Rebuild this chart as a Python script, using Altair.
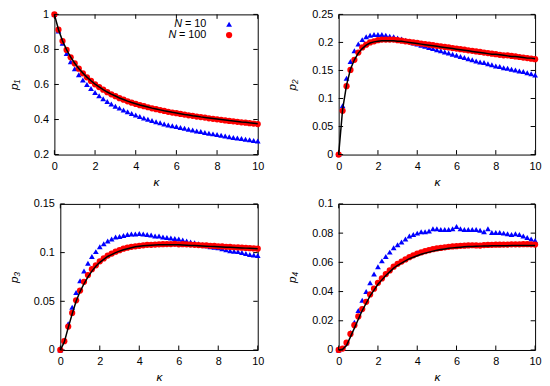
import altair as alt
import pandas as pd

kappa = [0, 0.2, 0.4, 0.6, 0.8, 1.0, 1.2, 1.4, 1.6, 1.8,
         2.0, 2.2, 2.4, 2.6, 2.8, 3.0, 3.2, 3.4, 3.6, 3.8,
         4.0, 4.2, 4.4, 4.6, 4.8, 5.0, 5.2, 5.4, 5.6, 5.8,
         6.0, 6.2, 6.4, 6.6, 6.8, 7.0, 7.2, 7.4, 7.6, 7.8,
         8.0, 8.2, 8.4, 8.6, 8.8, 9.0, 9.2, 9.4, 9.6, 9.8, 10.0]

# ---- p1 ----
p1_n10 = [1.000, 0.905, 0.835, 0.777, 0.730, 0.690, 0.656, 0.626, 0.600, 0.577,
          0.554, 0.535, 0.518, 0.503, 0.489, 0.476, 0.465, 0.454, 0.444, 0.434,
          0.426, 0.417, 0.409, 0.401, 0.394, 0.387, 0.381, 0.375, 0.369, 0.364,
          0.360, 0.355, 0.350, 0.345, 0.340, 0.335, 0.331, 0.326, 0.322, 0.318,
          0.314, 0.310, 0.306, 0.302, 0.298, 0.294, 0.291, 0.287, 0.284, 0.280, 0.277]
p1_n100 = [1.000, 0.913, 0.848, 0.797, 0.755, 0.720, 0.690, 0.664, 0.641, 0.620,
           0.601, 0.585, 0.570, 0.556, 0.544, 0.533, 0.522, 0.513, 0.504, 0.496,
           0.489, 0.482, 0.476, 0.470, 0.464, 0.459, 0.454, 0.449, 0.444, 0.440,
           0.436, 0.432, 0.428, 0.424, 0.421, 0.417, 0.414, 0.411, 0.407, 0.404,
           0.401, 0.398, 0.395, 0.392, 0.390, 0.387, 0.384, 0.382, 0.379, 0.377, 0.374]
p1_theory = [1.000, 0.914, 0.849, 0.798, 0.756, 0.721, 0.691, 0.665, 0.642, 0.621,
             0.602, 0.586, 0.571, 0.557, 0.545, 0.534, 0.523, 0.514, 0.505, 0.497,
             0.490, 0.483, 0.477, 0.471, 0.465, 0.460, 0.455, 0.450, 0.446, 0.441,
             0.437, 0.433, 0.429, 0.426, 0.422, 0.419, 0.415, 0.412, 0.409, 0.406,
             0.403, 0.400, 0.397, 0.394, 0.392, 0.389, 0.386, 0.384, 0.381, 0.379, 0.376]

# ---- p2 ----
p2_n10 = [0.000, 0.087, 0.136, 0.166, 0.185, 0.197, 0.205, 0.210, 0.213, 0.214,
          0.214, 0.214, 0.213, 0.211, 0.210, 0.208, 0.206, 0.204, 0.202, 0.199,
          0.197, 0.195, 0.193, 0.191, 0.189, 0.187, 0.185, 0.183, 0.181, 0.179,
          0.177, 0.175, 0.173, 0.171, 0.169, 0.167, 0.165, 0.164, 0.162, 0.160,
          0.158, 0.157, 0.155, 0.154, 0.152, 0.151, 0.149, 0.148, 0.146, 0.144, 0.142]
p2_n100 = [0.000, 0.078, 0.122, 0.151, 0.169, 0.182, 0.191, 0.196, 0.200, 0.202,
           0.204, 0.205, 0.205, 0.205, 0.205, 0.204, 0.203, 0.202, 0.201, 0.200,
           0.199, 0.198, 0.197, 0.196, 0.195, 0.194, 0.193, 0.192, 0.191, 0.190,
           0.189, 0.188, 0.187, 0.186, 0.185, 0.184, 0.183, 0.182, 0.181, 0.180,
           0.179, 0.178, 0.177, 0.177, 0.176, 0.175, 0.174, 0.173, 0.172, 0.171, 0.170]
p2_theory = [0.000, 0.080, 0.124, 0.152, 0.169, 0.181, 0.189, 0.195, 0.199, 0.201,
             0.202, 0.203, 0.203, 0.203, 0.203, 0.202, 0.202, 0.201, 0.200, 0.199,
             0.198, 0.197, 0.196, 0.195, 0.194, 0.193, 0.192, 0.191, 0.190, 0.189,
             0.188, 0.187, 0.186, 0.185, 0.184, 0.183, 0.182, 0.181, 0.180, 0.179,
             0.179, 0.178, 0.177, 0.176, 0.175, 0.175, 0.174, 0.173, 0.172, 0.172, 0.171]

# ---- p3 ----
p3_n10 = [0.000, 0.010, 0.027, 0.044, 0.059, 0.071, 0.081, 0.089, 0.096, 0.101,
          0.106, 0.109, 0.112, 0.114, 0.116, 0.1165, 0.1175, 0.1185, 0.119, 0.119,
          0.1195, 0.119, 0.1185, 0.118, 0.117, 0.117, 0.116, 0.1155, 0.115, 0.1145,
          0.114, 0.113, 0.112, 0.111, 0.110, 0.109, 0.108, 0.107, 0.106, 0.1055,
          0.105, 0.104, 0.103, 0.102, 0.1015, 0.101, 0.100, 0.099, 0.098, 0.0975, 0.097]
p3_n100 = [0.000, 0.009, 0.024, 0.038, 0.051, 0.061, 0.070, 0.077, 0.083, 0.087,
           0.091, 0.094, 0.097, 0.099, 0.101, 0.1025, 0.104, 0.105, 0.106, 0.1065,
           0.107, 0.1075, 0.108, 0.108, 0.1083, 0.1085, 0.1087, 0.1088, 0.1088, 0.109,
           0.1085, 0.1087, 0.1085, 0.1082, 0.108, 0.1078, 0.1075, 0.1073, 0.107, 0.1068,
           0.1065, 0.1063, 0.106, 0.1058, 0.1055, 0.1053, 0.105, 0.1048, 0.1045, 0.1043, 0.104]
p3_theory = [0.000, 0.008, 0.023, 0.037, 0.050, 0.060, 0.068, 0.075, 0.081, 0.086,
             0.090, 0.093, 0.096, 0.098, 0.100, 0.1015, 0.103, 0.104, 0.105, 0.106,
             0.1065, 0.107, 0.1073, 0.1076, 0.1078, 0.108, 0.108, 0.108, 0.108, 0.108,
             0.108, 0.1078, 0.1076, 0.1074, 0.1072, 0.107, 0.1068, 0.1066, 0.1064, 0.1062,
             0.106, 0.1058, 0.1056, 0.1054, 0.1052, 0.105, 0.1048, 0.1046, 0.1044, 0.1042, 0.104]

# ---- p4 ----
p4_n10 = [0.000, 0.001, 0.005, 0.012, 0.019, 0.027, 0.034, 0.040, 0.046, 0.052,
          0.057, 0.061, 0.064, 0.067, 0.070, 0.072, 0.074, 0.076, 0.078, 0.079,
          0.080, 0.081, 0.081, 0.0815, 0.083, 0.083, 0.0825, 0.0825, 0.0825, 0.083,
          0.0845, 0.083, 0.0825, 0.0825, 0.0825, 0.0825, 0.082, 0.081, 0.083, 0.0805,
          0.0805, 0.0805, 0.080, 0.0795, 0.079, 0.0795, 0.079, 0.078, 0.077, 0.076, 0.075]
p4_n100 = [0.000, 0.001, 0.005, 0.011, 0.017, 0.023, 0.028, 0.033, 0.038, 0.042,
           0.046, 0.049, 0.052, 0.0545, 0.057, 0.059, 0.0605, 0.062, 0.0635, 0.0648,
           0.066, 0.0668, 0.0676, 0.0683, 0.069, 0.0695, 0.0699, 0.0703, 0.0706, 0.0709,
           0.0711, 0.0713, 0.0714, 0.0716, 0.0717, 0.0716, 0.0715, 0.0718, 0.0719, 0.072,
           0.0721, 0.0721, 0.0722, 0.0722, 0.0723, 0.0723, 0.0723, 0.0724, 0.0724, 0.0723, 0.0722]
p4_theory = [0.000, 0.0005, 0.003, 0.009, 0.015, 0.021, 0.027, 0.032, 0.037, 0.041,
             0.045, 0.048, 0.051, 0.0535, 0.056, 0.058, 0.0595, 0.061, 0.0625, 0.0635,
             0.0645, 0.0655, 0.0663, 0.067, 0.0677, 0.0683, 0.0688, 0.0692, 0.0696, 0.0699,
             0.0702, 0.0704, 0.0706, 0.0708, 0.0709, 0.071, 0.0711, 0.0712, 0.0712, 0.0713,
             0.0713, 0.0714, 0.0714, 0.0714, 0.0715, 0.0715, 0.0715, 0.0715, 0.0716, 0.0716, 0.0716]

x_ticks = [0, 2, 4, 6, 8, 10]
y_ticks_1 = [0.2, 0.4, 0.6, 0.8, 1.0]
y_ticks_2 = [0, 0.05, 0.1, 0.15, 0.2, 0.25]
y_ticks_3 = [0, 0.05, 0.1, 0.15]
y_ticks_4 = [0, 0.02, 0.04, 0.06, 0.08, 0.1]

legend_labels = ["= 10", "= 100"]
legend_var = "N"

BLUE = "#0000ff"
RED = "#ff0000"
FONT = "Liberation Sans"
TICK = 4.5


def panel(n10, n100, theory, yt, ytitle, w, h, legend=False):
    df = pd.DataFrame({"k": kappa, "n10": n10, "n100": n100, "th": theory})
    xs = alt.Scale(domain=[0, 10], nice=False, zero=False)
    ys = alt.Scale(domain=[yt[0], yt[-1]], nice=False, zero=False)
    xax = alt.Axis(values=x_ticks, title="κ", ticks=False, domain=False, grid=False,
                   labelFlush=False, labelPadding=6, titlePadding=5, format="~f",
                   labelAngle=0)
    yax = alt.Axis(values=yt, title=ytitle, ticks=False, domain=False, grid=False,
                   labelPadding=6, titlePadding=13, format="~f", minExtent=0)
    X = lambda f: alt.X(f, scale=xs, axis=xax)
    Y = lambda f: alt.Y(f, scale=ys, axis=yax)

    blue = alt.Chart(df).mark_point(shape="triangle-up", filled=True, size=34,
                                    color=BLUE, opacity=1, strokeWidth=0).encode(
        x=X("k:Q"), y=Y("n10:Q"))
    red = alt.Chart(df).mark_circle(size=40, color=RED, opacity=1).encode(
        x=X("k:Q"), y=Y("n100:Q"))
    line = alt.Chart(df).mark_line(color="black", strokeWidth=1.5).encode(
        x=X("k:Q"), y=Y("th:Q"))

    xt = pd.DataFrame({"v": x_ticks})
    ytd = pd.DataFrame({"v": yt})
    rule = dict(color="black", strokeWidth=1)
    t_bottom = alt.Chart(xt).mark_rule(**rule).encode(
        x=X("v:Q"), y=alt.value(h), y2=alt.value(h - TICK))
    t_top = alt.Chart(xt).mark_rule(**rule).encode(
        x=X("v:Q"), y=alt.value(0), y2=alt.value(TICK))
    t_left = alt.Chart(ytd).mark_rule(**rule).encode(
        y=Y("v:Q"), x=alt.value(0), x2=alt.value(TICK))
    t_right = alt.Chart(ytd).mark_rule(**rule).encode(
        y=Y("v:Q"), x=alt.value(w - TICK), x2=alt.value(w))

    layers = [blue, red, line, t_bottom, t_top, t_left, t_right]

    if legend:
        ld = pd.DataFrame({"lab": legend_labels, "var": [legend_var, legend_var]})
        row_y = [10, 21]
        for i, lab in enumerate(legend_labels):
            one = ld.iloc[[i]]
            layers.append(alt.Chart(one).mark_text(
                align="right", baseline="middle", font=FONT, fontSize=11,
                color="black").encode(text="lab:N", x=alt.value(154), y=alt.value(row_y[i])))
            layers.append(alt.Chart(one).mark_text(
                align="right", baseline="middle", font=FONT, fontSize=11,
                fontStyle="italic", color="black").encode(
                text="var:N", x=alt.value(129.5 if i == 0 else 123.5), y=alt.value(row_y[i])))
        layers.append(alt.Chart(ld.iloc[[0]]).mark_point(
            shape="triangle-up", filled=True, size=34, color=BLUE, opacity=1,
            strokeWidth=0).encode(x=alt.value(177), y=alt.value(row_y[0])))
        layers.append(alt.Chart(ld.iloc[[1]]).mark_circle(
            size=40, color=RED, opacity=1).encode(x=alt.value(177), y=alt.value(row_y[1])))

    return alt.layer(*layers).properties(width=w, height=h)


def spacer():
    # empty, invisible cell so each row's first panel is placed by its own axis width
    return alt.Chart(pd.DataFrame({"a": [0]})).mark_point(opacity=0).encode(
        x=alt.value(0), y=alt.value(0)).properties(width=1, height=1)


c1 = panel(p1_n10, p1_n100, p1_theory, y_ticks_1, "p₁", 206, 142, legend=True)
c2 = panel(p2_n10, p2_n100, p2_theory, y_ticks_2, "p₂", 199, 142)
c3 = panel(p3_n10, p3_n100, p3_theory, y_ticks_3, "p₃", 200, 148)
c4 = panel(p4_n10, p4_n100, p4_theory, y_ticks_4, "p₄", 199, 148)

chart = alt.vconcat(
    alt.hconcat(spacer(), c1, c2, spacing=21),
    alt.hconcat(spacer(), c3, c4, spacing=21),
    spacing=9,
).properties(
    padding={"left": -30, "top": -3, "right": 0, "bottom": 0},
    background="white",
).configure_view(
    stroke="black", strokeWidth=1
).configure_axis(
    labelFont=FONT, titleFont=FONT, labelFontSize=11, titleFontSize=12,
    labelColor="black", titleColor="black", titleFontWeight="normal",
    titleFontStyle="italic"
)

chart.save("out.html", embed_options={"renderer": "svg", "actions": False})
